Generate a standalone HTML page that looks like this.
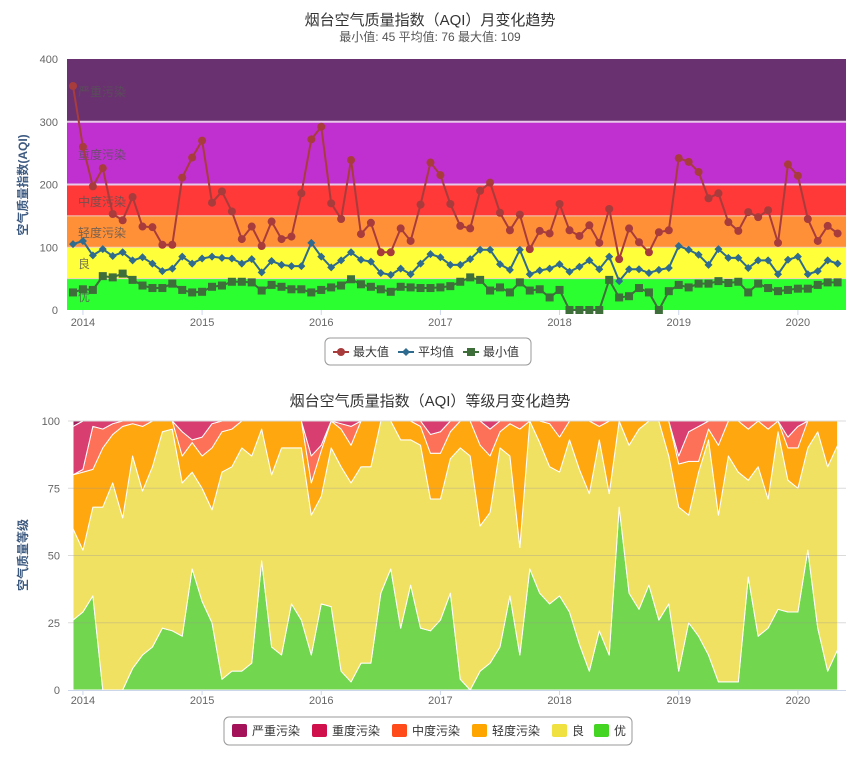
<!DOCTYPE html>
<html><head><meta charset="utf-8">
<style>
html,body{margin:0;padding:0;background:#fff;}
body{width:859px;height:760px;overflow:hidden;font-family:"Liberation Sans","Noto Sans CJK SC",sans-serif;}
svg text{font-family:"Liberation Sans","Noto Sans CJK SC",sans-serif;}
</style></head>
<body>
<svg id="chart" width="859" height="760" xmlns="http://www.w3.org/2000/svg">
<text x="430" y="25" text-anchor="middle" font-size="15" fill="#333">烟台空气质量指数（AQI）月变化趋势</text>
<text x="430" y="41" text-anchor="middle" font-size="12" fill="#555">最小值: 45 平均值: 76 最大值: 109</text>
<text transform="translate(27,185) rotate(-90)" text-anchor="middle" font-size="12" font-weight="bold" fill="#3d5a80">空气质量指数(AQI)</text>
<text x="430" y="406" text-anchor="middle" font-size="15" fill="#333">烟台空气质量指数（AQI）等级月变化趋势</text>
<text transform="translate(27,555) rotate(-90)" text-anchor="middle" font-size="12" font-weight="bold" fill="#3d5a80">空气质量等级</text>
<g id="c1"></g>
<g id="c2"></g>
</svg>
<script>
const years=['2014','2015','2016','2017','2018','2019','2020'];
const maxVals=[357,260,197,226,153,143,180,133,132,104,104,211,243,270,171,189,157,113,133,102,141,113,117,186,272,292,170,145,239,121,139,92,92,130,110,168,235,215,169,134,130,190,203,155,127,152,97,126,122,169,127,118,135,107,161,81,130,108,92,124,127,242,236,220,178,186,140,126,156,148,159,107,232,214,145,110,134,122];
const avgVals=[105,110,87,97,86,92,79,84,74,62,66,85,74,82,85,83,82,74,81,60,78,72,70,70,107,85,68,79,92,80,77,59,56,66,57,74,89,84,72,72,81,96,96,73,64,96,57,63,66,73,61,69,79,65,85,46,65,65,59,64,67,102,96,88,72,97,83,83,67,79,79,57,80,85,57,62,79,74];
const minVals=[28,33,32,54,52,58,48,39,35,35,42,32,28,29,37,39,45,45,44,31,40,37,33,33,28,32,36,39,49,41,37,33,29,37,36,35,35,36,38,45,52,48,31,36,28,44,31,33,20,32,0,0,0,0,48,20,22,35,28,0,30,40,36,42,42,46,43,45,28,42,35,30,32,34,34,40,44,44];
const yTicks1=[0,100,200,300,400];
const yTicks2=[0,25,50,75,100];
const you=[26,29,35,0,0,0,8,13,16,23,22,20,45,33,25,4,7,7,10,48,16,13,32,26,13,32,31,7,3,10,10,36,45,23,39,23,22,26,36,4,0,7,10,16,35,13,45,36,32,35,29,17,7,22,13,68,36,30,39,26,32,7,25,20,13,3,3,3,42,20,23,30,29,29,52,23,7,15];
const liang=[34,23,33,68,77,64,79,61,67,73,75,57,36,42,42,77,76,83,77,49,64,77,58,64,52,40,59,76,74,73,73,64,55,70,54,68,49,45,50,86,87,54,56,74,52,40,55,56,51,46,64,65,66,71,60,32,55,67,61,74,55,61,40,61,80,62,84,78,36,63,48,66,49,46,38,73,76,76];
const qingdu=[20,29,14,22,18,34,12,24,17,4,3,10,11,12,23,15,14,10,13,3,20,10,10,10,12,17,10,14,14,17,17,0,0,7,7,7,17,17,10,10,13,30,21,6,12,44,0,8,16,13,7,18,27,5,27,0,9,3,0,0,13,16,20,4,4,26,13,19,19,17,26,4,12,15,10,4,17,9];
const zhongdu=[0,1,16,7,4,2,1,2,0,0,0,9,1,7,9,4,3,0,0,0,0,0,0,0,10,2,0,2,7,0,0,0,0,0,0,2,7,8,4,0,0,9,10,4,1,3,0,0,1,6,0,0,0,2,0,0,0,0,0,0,0,3,11,13,3,9,0,0,3,0,3,0,4,8,0,0,0,0];
const zhongdu2=[18,18,2,3,1,0,0,0,0,0,0,4,7,6,1,0,0,0,0,0,0,0,0,0,13,9,0,1,2,0,0,0,0,0,0,0,5,4,0,0,0,0,3,0,0,0,0,0,0,0,0,0,0,0,0,0,0,0,0,0,0,13,4,2,0,0,0,0,0,0,0,0,6,2,0,0,0,0];
const yanzhong=[2,0,0,0,0,0,0,0,0,0,0,0,0,0,0,0,0,0,0,0,0,0,0,0,0,0,0,0,0,0,0,0,0,0,0,0,0,0,0,0,0,0,0,0,0,0,0,0,0,0,0,0,0,0,0,0,0,0,0,0,0,0,0,0,0,0,0,0,0,0,0,0,0,0,0,0,0,0];
const levelNames=['优','良','轻度污染','中度污染','重度污染','严重污染'];

const NS='http://www.w3.org/2000/svg';
function mk(tag,attrs,parent){const e=document.createElementNS(NS,tag);for(const k in attrs)e.setAttribute(k,attrs[k]);parent.appendChild(e);return e;}
const X0=73,DX=9.93;
function xs(i){return X0+i*DX;}
function yearX(k){return X0+(1+12*k)*DX;}
const c1=document.getElementById('c1');
const T1=59,B1=310;
function y1(v){return B1-(v/400)*(B1-T1);}
const bands=[[300,400,'#6a3170','严重污染',96],[200,300,'#c030d0','重度污染',159],[150,200,'#ff3838','中度污染',206],[100,150,'#ff9038','轻度污染',237],[50,100,'#ffff3a','良',268],[0,50,'#2cff30','优',301]];
bands.forEach(b=>{
  const r=mk('rect',{x:67,y:y1(b[1]),width:779,height:y1(b[0])-y1(b[1]),fill:b[2]},c1);
  
  
  const t=mk('text',{x:78,y:b[4],'font-size':12,fill:'#555','fill-opacity':0.8},c1);
  t.textContent=b[3];
  
  
});
[300,200].forEach(v=>{const l=mk('line',{x1:67,x2:846,y1:y1(v),y2:y1(v),stroke:'#e8c8e8','stroke-width':2},c1);});
[150,100,50].forEach(v=>{const l=mk('line',{x1:67,x2:846,y1:y1(v),y2:y1(v),stroke:'#f0d0c0','stroke-width':1},c1);});
yTicks1.forEach(v=>{const t=mk('text',{x:58,y:y1(v)+4,'text-anchor':'end','font-size':11,fill:'#666'},c1);t.textContent=v;});
years.forEach((yr,k)=>{const t=mk('text',{x:yearX(k),y:326,'text-anchor':'middle','font-size':11,fill:'#666'},c1);t.textContent=yr;
  const tk=mk('line',{x1:yearX(k),x2:yearX(k),y1:310,y2:315,stroke:'#ccd6eb'},c1);});
function series(vals,color,shape,name){
  const g=mk('g',{},c1);
  const pts=vals.map((v,i)=>xs(i)+','+y1(v)).join(' ');
  const pl=mk('polyline',{points:pts,fill:'none',stroke:color,'stroke-width':2},g);
  
  vals.forEach((v,i)=>{const x=xs(i),y=y1(v);let m;
    if(shape==='circle')m=mk('circle',{cx:x,cy:y,r:4,fill:color},g);
    else if(shape==='diamond')m=mk('path',{d:`M${x} ${y-4}L${x+4} ${y}L${x} ${y+4}L${x-4} ${y}Z`,fill:color},g);
    else m=mk('rect',{x:x-4,y:y-4,width:8,height:8,fill:color},g);
    });
}
series(maxVals,'#a83c3c','circle','max');
series(avgVals,'#2e6b8e','diamond','avg');
series(minVals,'#3e6e3a','square','min');
const lg1=mk('g',{},c1);
mk('rect',{x:325,y:338,width:206,height:27,rx:5,fill:'#fff',stroke:'#999'},lg1);
[['最大值','#a83c3c','circle',333],['平均值','#2e6b8e','diamond',398],['最小值','#3e6e3a','square',463]].forEach(it=>{
  const g=mk('g',{},lg1);
  const x=it[3],y=352;mk('line',{x1:x,x2:x+16,y1:y,y2:y,stroke:it[1],'stroke-width':2},g);
  if(it[2]==='circle')mk('circle',{cx:x+8,cy:y,r:4,fill:it[1]},g);
  else if(it[2]==='diamond')mk('path',{d:`M${x+8} ${y-4}L${x+12} ${y}L${x+8} ${y+4}L${x+4} ${y}Z`,fill:it[1]},g);
  else mk('rect',{x:x+4,y:y-4,width:8,height:8,fill:it[1]},g);
  const t=mk('text',{x:x+20,y:y+4,'font-size':12,fill:'#333'},g);t.textContent=it[0];});
const c2=document.getElementById('c2');
const T2=421,B2=690;
function y2(v){return B2-(v/100)*(B2-T2);}
const layers=[you,liang,qingdu,zhongdu,zhongdu2,yanzhong];
const fills=['#72d64e','#f1e163','#ffa70f','#fd7158','#d83f70','#9e1f5c'];
const cum=[];let base=you.map(()=>0);
layers.forEach((arr,li)=>{const top=arr.map((v,i)=>base[i]+v);cum.push([base.slice(),top]);base=top;});
layers.forEach((arr,li)=>{const [lo,hi]=cum[li];
  let d='M'+hi.map((v,i)=>xs(i)+' '+y2(v)).join('L');
  for(let i=lo.length-1;i>=0;i--)d+='L'+xs(i)+' '+y2(lo[i]);d+='Z';
  const p=mk('path',{d:d,fill:fills[li],stroke:'#fff','stroke-width':1,'stroke-linejoin':'round'},c2);
  });
yTicks2.forEach(v=>{
  if(v>0){const l=mk('line',{x1:68,x2:846,y1:y2(v),y2:y2(v),stroke:'#999','stroke-opacity':0.35},c2);}
  const t=mk('text',{x:60,y:y2(v)+4,'text-anchor':'end','font-size':11,fill:'#666'},c2);t.textContent=v;});
const ax=mk('line',{x1:68,x2:846,y1:690.5,y2:690.5,stroke:'#ccd6eb'},c2);
years.forEach((yr,k)=>{const t=mk('text',{x:yearX(k),y:704,'text-anchor':'middle','font-size':11,fill:'#666'},c2);t.textContent=yr;
  const tk=mk('line',{x1:yearX(k),x2:yearX(k),y1:690,y2:695,stroke:'#ccd6eb'},c2);});
const lg2=mk('g',{},c2);
mk('rect',{x:224,y:717,width:408,height:28,rx:5,fill:'#fff',stroke:'#999'},lg2);
[['严重污染','#a4135a',232],['重度污染','#d0104c',312],['中度污染','#ff4a1a',392],['轻度污染','#ffa500',472],['良','#f0e040',552],['优','#44d422',594]].forEach(it=>{
  const g=mk('g',{},lg2);
  mk('rect',{x:it[2],y:724,width:15,height:13,rx:2,fill:it[1]},g);
  const t=mk('text',{x:it[2]+20,y:735,'font-size':12,fill:'#333'},g);t.textContent=it[0];});
</script>
</body></html>
